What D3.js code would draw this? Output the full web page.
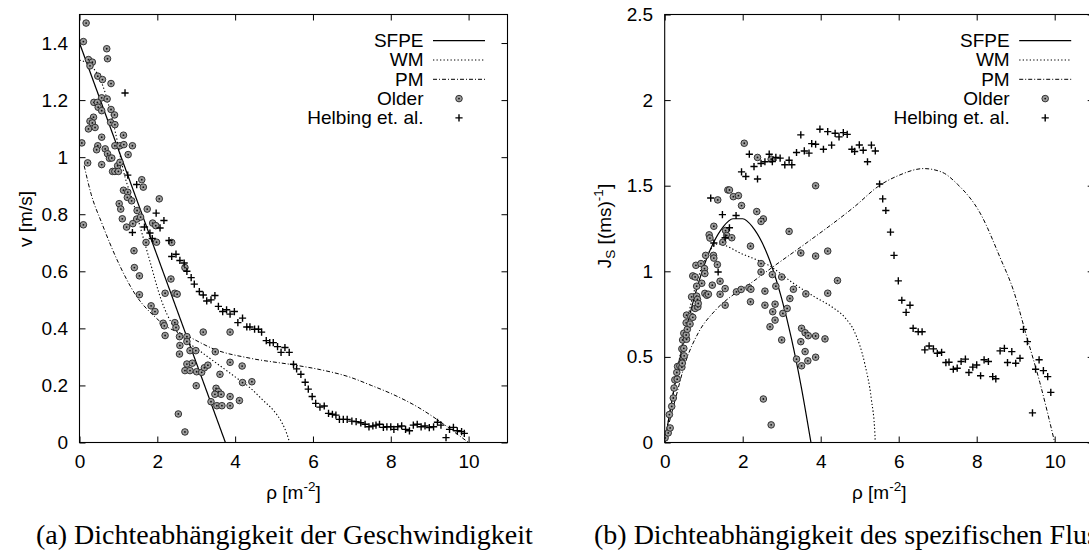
<!DOCTYPE html>
<html>
<head>
<meta charset="utf-8">
<script src="https://cdn.jsdelivr.net/npm/d3@7"></script>
<style>
  body { margin: 0; background: #fff; overflow: hidden; }
</style>
</head>
<body>
<div id="chart"></div>
<script>
// ---- Daten ----
const xTicks = [0, 2, 4, 6, 8, 10];
const vTicks = [0, 0.2, 0.4, 0.6, 0.8, 1, 1.2, 1.4];
const jTicks = [0, 0.5, 1, 1.5, 2, 2.5];
const legendLabels = ['SFPE', 'WM', 'PM', 'Older', 'Helbing et. al.'];

// Geschwindigkeit v [m/s] ueber Dichte
const sfpeV = [[0, 1.4], [3.75, 0]];
const wmV = [[0, 1.34], [0.3, 1.32], [0.6, 1.25], [0.9, 1.1], [1.17, 0.93], [1.36, 0.85], [1.55, 0.76],
  [1.8, 0.64], [2.1, 0.5], [2.4, 0.41], [2.7, 0.36], [3.0, 0.33], [3.5, 0.28], [4.0, 0.23], [4.4, 0.19],
  [4.7, 0.15], [5.0, 0.11], [5.2, 0.07], [5.33, 0.03], [5.4, 0]];
const pmV = [[0.12, 0.97], [0.3, 0.87], [0.57, 0.77], [1.0, 0.63], [1.43, 0.52], [1.94, 0.44], [2.2, 0.41],
  [2.76, 0.374], [3.5, 0.325], [4.4, 0.295], [5.5, 0.272], [6.2, 0.255], [6.95, 0.229], [7.5, 0.2],
  [8.0, 0.172], [8.67, 0.126], [9.27, 0.073], [9.7, 0.03], [10.0, 0]];
const olderV = [[0.17, 1.47], [0.10, 1.405], [0.70, 1.38], [0.72, 1.345], [0.23, 1.342], [0.33, 1.333], [0.27, 1.32],
  [0.47, 1.284], [0.59, 1.272], [0.81, 1.258], [0.57, 1.208], [0.71, 1.204], [0.37, 1.192], [0.46, 1.192],
  [0.48, 1.175], [0.81, 1.167], [0.57, 1.163], [0.90, 1.148], [0.36, 1.14], [0.27, 1.126], [0.33, 1.12],
  [0.80, 1.122], [0.91, 1.114], [0.40, 1.104], [0.23, 1.099], [0.57, 1.07], [1.13, 1.077], [0.06, 1.05],
  [0.47, 1.04], [0.91, 1.04], [1.04, 1.04], [1.14, 1.044], [1.36, 1.04], [0.44, 1.026], [0.66, 1.029],
  [0.72, 1.012], [1.25, 1.009], [0.77, 0.996], [0.83, 0.997], [0.21, 0.98], [0.57, 0.974], [0.98, 0.97],
  [1.04, 0.982], [0.85, 0.95], [0.91, 0.95], [1.0, 0.95], [1.6, 0.921], [1.64, 0.895], [1.13, 0.884],
  [1.24, 0.877], [1.23, 0.859], [1.34, 0.847], [2.05, 0.854], [1.02, 0.837], [1.06, 0.818], [1.48, 0.813],
  [1.74, 0.818], [0.10, 0.763], [1.10, 0.784], [1.47, 0.783], [1.57, 0.79], [1.88, 0.769], [1.37, 0.767],
  [1.21, 0.755], [1.96, 0.76], [1.71, 0.701], [1.98, 0.702], [2.37, 0.701], [1.40, 0.672], [1.41, 0.613],
  [1.54, 0.584], [2.71, 0.613], [2.35, 0.573], [1.54, 0.518], [2.2, 0.523], [2.45, 0.523], [2.51, 0.52],
  [1.84, 0.479], [1.94, 0.459], [2.15, 0.418], [2.18, 0.409], [2.45, 0.42], [3.18, 0.387], [3.87, 0.387],
  [2.2, 0.375], [2.48, 0.403], [2.57, 0.371], [2.76, 0.371], [2.76, 0.354], [2.58, 0.34], [2.84, 0.322],
  [2.99, 0.322], [2.57, 0.31], [3.49, 0.318], [2.76, 0.275], [2.9, 0.278], [3.87, 0.281], [4.18, 0.268],
  [2.71, 0.252], [2.84, 0.252], [3.01, 0.248], [3.14, 0.246], [3.21, 0.262], [3.30, 0.271], [3.61, 0.239],
  [3.0, 0.199], [3.51, 0.19], [3.57, 0.178], [3.64, 0.169], [3.48, 0.169], [3.87, 0.161], [4.19, 0.21],
  [4.43, 0.213], [4.11, 0.147], [3.38, 0.143], [3.53, 0.129], [3.66, 0.129], [3.87, 0.129], [2.54, 0.10],
  [2.71, 0.037]];
const helbingV = [[1.17, 1.225], [1.24, 0.937], [1.47, 0.904], [1.97, 0.804], [2.17, 0.778], [1.36, 0.736],
  [1.67, 0.755], [2.07, 0.752], [1.81, 0.734], [1.87, 0.715], [2.30, 0.708], [2.37, 0.652], [2.48, 0.66],
  [2.58, 0.638], [2.69, 0.629], [2.76, 0.6], [2.87, 0.578], [2.95, 0.555], [3.08, 0.529], [3.18, 0.517],
  [3.27, 0.496], [3.38, 0.5], [3.48, 0.515], [3.57, 0.477], [3.68, 0.459], [3.78, 0.465], [3.87, 0.45],
  [3.98, 0.459], [4.07, 0.42], [4.19, 0.436], [4.3, 0.405], [4.38, 0.405], [4.5, 0.397], [4.6, 0.397],
  [4.68, 0.387], [4.8, 0.357], [4.89, 0.35], [4.98, 0.35], [5.09, 0.336], [5.18, 0.316], [5.28, 0.333],
  [5.39, 0.316], [5.5, 0.274], [5.58, 0.258], [5.69, 0.239], [5.8, 0.211], [5.88, 0.187], [5.98, 0.161],
  [6.07, 0.137], [6.18, 0.124], [6.29, 0.128], [6.4, 0.102], [6.5, 0.099], [6.59, 0.096], [6.68, 0.081],
  [6.78, 0.081], [6.88, 0.081], [7.0, 0.075], [7.11, 0.073], [7.23, 0.069], [7.34, 0.064], [7.44, 0.055],
  [7.54, 0.058], [7.62, 0.061], [7.71, 0.064], [7.81, 0.053], [7.9, 0.055], [8.0, 0.055], [8.08, 0.046],
  [8.18, 0.055], [8.28, 0.058], [8.38, 0.046], [8.48, 0.041], [8.58, 0.061], [8.68, 0.064], [8.78, 0.055],
  [8.88, 0.058], [8.99, 0.052], [9.1, 0.055], [9.2, 0.071], [9.29, 0.061], [9.42, 0.017], [9.51, 0.046],
  [9.61, 0.053], [9.71, 0.041], [9.82, 0.038], [9.89, 0.032]];

// spezifischer Fluss J_s [(ms)^-1] ueber Dichte
const sfpeJ = [[0, 0], [0.25, 0.327], [0.5, 0.607], [0.75, 0.84], [1.0, 1.027], [1.25, 1.167], [1.5, 1.26],
  [1.75, 1.307], [2.0, 1.307], [2.25, 1.26], [2.5, 1.167], [2.75, 1.027], [3.0, 0.84], [3.25, 0.607],
  [3.5, 0.327], [3.75, 0]];
const wmJ = [[0, 0], [0.25, 0.33], [0.5, 0.63], [0.75, 0.88], [1.0, 1.05], [1.36, 1.16], [2.0, 1.1],
  [2.7, 1.03], [3.3, 0.93], [3.85, 0.85], [4.3, 0.79], [4.62, 0.73], [4.88, 0.64], [5.13, 0.46],
  [5.3, 0.25], [5.39, 0.05], [5.4, 0]];
const pmJ = [[0.12, 0.12], [0.27, 0.25], [0.52, 0.46], [0.86, 0.64], [1.29, 0.77], [1.8, 0.87], [2.2, 0.93],
  [2.74, 1.02], [3.6, 1.16], [4.88, 1.38], [5.5, 1.5], [6.0, 1.56], [6.64, 1.6], [7.1, 1.58], [7.5, 1.51],
  [8.1, 1.335], [8.6, 1.08], [8.94, 0.89], [9.28, 0.62], [9.62, 0.35], [10.0, 0]];
const olderJ = [[2.04, 1.748], [2.38, 1.665], [2.73, 1.655], [3.87, 1.5], [1.62, 1.475], [1.66, 1.475],
  [1.76, 1.436], [1.89, 1.442], [1.36, 1.417], [1.97, 1.384], [2.36, 1.349], [2.53, 1.306], [2.47, 1.291],
  [1.26, 1.263], [1.14, 1.213], [1.16, 1.194], [1.56, 1.238], [1.59, 1.209], [1.72, 1.196], [3.19, 1.233],
  [1.49, 1.17], [2.2, 1.147], [3.49, 1.107], [3.87, 1.089], [4.18, 1.118], [1.05, 1.093], [1.25, 1.093],
  [1.26, 1.077], [1.35, 1.039], [0.80, 1.035], [0.93, 1.045], [2.47, 1.045], [0.72, 0.973], [0.78, 0.967],
  [1.02, 1.016], [1.03, 0.987], [2.47, 0.996], [2.76, 0.981], [3.0, 0.967], [0.95, 0.93], [0.82, 0.913],
  [1.22, 0.919], [1.42, 0.942], [2.16, 0.904], [2.21, 0.895], [2.57, 0.884], [1.55, 0.899], [1.84, 0.88],
  [4.18, 0.872], [4.43, 0.946], [1.03, 0.871], [1.08, 0.86], [1.12, 0.866], [0.69, 0.851], [0.82, 0.855],
  [0.84, 0.836], [3.3, 0.895], [3.62, 0.868], [2.85, 0.913],
  [0.01, 0.027], [0.09, 0.056], [0.14, 0.085], [0.12, 0.163], [0.18, 0.211], [0.22, 0.26], [0.24, 0.318],
  [0.26, 0.366], [0.32, 0.37], [0.31, 0.409], [0.33, 0.444], [0.39, 0.448], [0.44, 0.44], [0.44, 0.469],
  [0.45, 0.463], [0.5, 0.506], [0.44, 0.547], [0.49, 0.55], [0.46, 0.599], [0.56, 0.603], [0.49, 0.638],
  [0.55, 0.628], [0.58, 0.661], [0.55, 0.699], [0.65, 0.692], [0.56, 0.744], [0.67, 0.738], [0.72, 0.731],
  [0.78, 0.783], [0.85, 0.792], [0.86, 0.812], [1.42, 0.866], [1.55, 0.802], [1.96, 0.894], [2.2, 0.822],
  [2.57, 0.802], [2.83, 0.808], [2.77, 0.764], [2.83, 0.715], [2.7, 0.676], [3.03, 0.754], [3.14, 0.783],
  [3.21, 0.841], [3.0, 0.599], [3.51, 0.667], [3.6, 0.641], [3.68, 0.624], [3.87, 0.622], [4.11, 0.605],
  [3.49, 0.589], [3.6, 0.531], [3.38, 0.487], [3.87, 0.498], [3.67, 0.477], [3.51, 0.448], [2.53, 0.254],
  [2.73, 0.103]];
const helbingJ = [[3.49, 1.797], [3.98, 1.83], [4.18, 1.816], [4.37, 1.806], [4.47, 1.785], [4.58, 1.81],
  [4.68, 1.8], [3.77, 1.746], [3.87, 1.742], [4.28, 1.737], [4.07, 1.713], [4.8, 1.713], [4.87, 1.7],
  [3.38, 1.694], [3.58, 1.703], [3.7, 1.69], [2.17, 1.684], [2.68, 1.684], [2.57, 1.64], [2.47, 1.63],
  [2.85, 1.665], [2.96, 1.661], [2.76, 1.641], [3.19, 1.649], [3.08, 1.622], [3.26, 1.622], [2.29, 1.612],
  [1.97, 1.581], [2.08, 1.554], [2.38, 1.539], [1.18, 1.428], [1.48, 1.331], [1.83, 1.326], [1.66, 1.254],
  [1.26, 1.165], [1.55, 1.196], [1.37, 0.996], [4.99, 1.738], [5.09, 1.707], [5.2, 1.64], [5.3, 1.737],
  [5.4, 1.703], [5.51, 1.51], [5.59, 1.423], [5.67, 1.355], [5.79, 1.229], [5.88, 1.093], [5.99, 0.944],
  [6.08, 0.831], [6.29, 0.802], [6.19, 0.76], [6.37, 0.667], [6.5, 0.647], [6.6, 0.647], [6.67, 0.541],
  [6.78, 0.564], [6.89, 0.547], [6.99, 0.521], [7.1, 0.527], [7.21, 0.467], [7.29, 0.469], [7.4, 0.428],
  [7.5, 0.434], [7.6, 0.473], [7.71, 0.487], [7.8, 0.409], [7.9, 0.44], [8.0, 0.453], [8.1, 0.39],
  [8.19, 0.483], [8.3, 0.473], [8.41, 0.385], [8.49, 0.372], [8.6, 0.535], [8.71, 0.55], [8.79, 0.467],
  [8.9, 0.531], [9.0, 0.463], [9.11, 0.492], [9.2, 0.661], [9.3, 0.589], [9.43, 0.173], [9.51, 0.428],
  [9.6, 0.483], [9.71, 0.42], [9.82, 0.385], [9.9, 0.293]];

const W = 1089, H = 551;
const SANS = '"Liberation Sans", Arial, Helvetica, sans-serif';
const SERIF = '"Liberation Serif", "Times New Roman", serif';
const FS = 19;

const svg = d3.select('#chart')
  .append('svg')
    .attr('width', W)
    .attr('height', H)
    .style('display', 'block');

const dashes = { solid: null, dotted: '1.3,2.2', dashdot: '4,2,1,2' };

const olderMark = (g) => {
  g.append('circle').attr('r', 3.3).attr('fill', '#9c9c9c').attr('stroke', '#222').attr('stroke-width', 0.9);
  g.append('circle').attr('r', 0.9).attr('fill', '#111');
};
const plusMark = (g) => {
  g.append('path').attr('d', 'M-3.6,0H3.6M0,-3.6V3.6').attr('stroke', '#000').attr('stroke-width', 1.4);
};

const drawPanel = (p) => {
  const x = d3.scaleLinear().domain([0, 11]).range([p.left, p.right]);
  const y = d3.scaleLinear().domain(p.yDomain).range([p.bottom, p.top]);
  const fmt = d => String(d);

  const noDomain = g => g.select('.domain').remove();
  const styleText = g => g.selectAll('text').attr('font-family', SANS).attr('font-size', FS).attr('fill', '#000');

  // Achsen (Ticks nach innen, gespiegelt)
  svg.append('g')
      .attr('transform', `translate(0,${p.bottom})`)
      .call(d3.axisBottom(x).tickValues(xTicks).tickFormat(fmt).tickSizeInner(-6).tickSizeOuter(0).tickPadding(12))
      .call(noDomain).call(styleText);
  svg.append('g')
      .attr('transform', `translate(0,${p.top})`)
      .call(d3.axisTop(x).tickValues(xTicks).tickFormat('').tickSizeInner(-6).tickSizeOuter(0))
      .call(noDomain);
  svg.append('g')
      .attr('transform', `translate(${p.left},0)`)
      .call(d3.axisLeft(y).tickValues(p.yTicks).tickFormat(fmt).tickSizeInner(-6).tickSizeOuter(0).tickPadding(11.5))
      .call(noDomain).call(styleText);
  svg.append('g')
      .attr('transform', `translate(${p.right},0)`)
      .call(d3.axisRight(y).tickValues(p.yTicks).tickFormat('').tickSizeInner(-6).tickSizeOuter(0))
      .call(noDomain);
  svg.selectAll('.tick line').attr('stroke', '#000');

  const clipId = 'clip-' + p.id;
  svg.append('clipPath').attr('id', clipId)
    .append('rect')
      .attr('x', p.left).attr('y', p.top)
      .attr('width', p.right - p.left).attr('height', p.bottom - p.top);

  const plot = svg.append('g').attr('clip-path', `url(#${clipId})`);

  const line = d3.line()
    .x(d => x(d[0]))
    .y(d => y(d[1]))
    .curve(d3.curveMonotoneX);

  p.lines.forEach(l => {
    plot.append('path')
      .datum(l.data)
      .attr('d', line)
      .attr('fill', 'none')
      .attr('stroke', '#000')
      .attr('stroke-width', l.width)
      .attr('stroke-dasharray', dashes[l.style]);
  });

  plot.selectAll('g.older')
    .data(p.older)
    .enter()
    .append('g')
      .attr('class', 'older')
      .attr('transform', d => `translate(${x(d[0])},${y(d[1])})`)
      .each(function () { olderMark(d3.select(this)); });

  plot.selectAll('g.helbing')
    .data(p.helbing)
    .enter()
    .append('g')
      .attr('class', 'helbing')
      .attr('transform', d => `translate(${x(d[0])},${y(d[1])})`)
      .each(function () { plusMark(d3.select(this)); });

  // Rahmen
  svg.append('rect')
    .attr('x', p.left).attr('y', p.top)
    .attr('width', p.right - p.left).attr('height', p.bottom - p.top)
    .attr('fill', 'none').attr('stroke', '#000').attr('stroke-width', 1.1);

  // Legende
  const lg = svg.append('g').attr('font-family', SANS).attr('font-size', FS);
  legendLabels.forEach((lab, i) => {
    const cy = 40.7 + i * 19.3;
    lg.append('text')
      .attr('x', p.right - 84)
      .attr('y', cy + 6.3)
      .attr('text-anchor', 'end')
      .text(lab);
    const sx0 = p.right - 74.5, sx1 = p.right - 22.5;
    if (i < 3) {
      const l = p.lines[i];
      lg.append('line')
        .attr('x1', sx0).attr('x2', sx1).attr('y1', cy).attr('y2', cy)
        .attr('stroke', '#000').attr('stroke-width', l.width)
        .attr('stroke-dasharray', dashes[l.style]);
    } else {
      const m = lg.append('g').attr('transform', `translate(${(sx0 + sx1) / 2},${cy})`);
      if (i === 3) olderMark(m); else plusMark(m);
    }
  });

  // Achsentitel x
  const xl = svg.append('text')
    .attr('x', (p.left + p.right) / 2)
    .attr('y', 499)
    .attr('text-anchor', 'middle')
    .attr('font-family', SANS)
    .attr('font-size', FS);
  xl.append('tspan').text('ρ [m');
  xl.append('tspan').attr('font-size', 13.5).attr('dy', -8).text('-2');
  xl.append('tspan').attr('dy', 8).text(']');

  // Achsentitel y
  const yl = svg.append('text')
    .attr('transform', `translate(${p.ylabelX},${p.ylabelY}) rotate(-90)`)
    .attr('text-anchor', 'middle')
    .attr('font-family', SANS)
    .attr('font-size', FS);
  p.ylabel(yl);

  // Bildunterschrift
  svg.append('text')
    .attr('x', p.captionX)
    .attr('y', 544)
    .attr('font-family', SERIF)
    .attr('font-size', 28)
    .text(p.caption);
};

drawPanel({
  id: 'a', left: 79.5, right: 507.5, top: 14.5, bottom: 442.5,
  yDomain: [0, 1.5], yTicks: vTicks,
  lines: [
    { data: sfpeV, style: 'solid', width: 1.2 },
    { data: wmV, style: 'dotted', width: 1.1 },
    { data: pmV, style: 'dashdot', width: 1.0 }
  ],
  older: olderV, helbing: helbingV,
  ylabelX: 32, ylabelY: 219,
  ylabel: t => t.text('v [m/s]'),
  captionX: 36,
  caption: '(a) Dichteabhängigkeit der Geschwindigkeit'
});

drawPanel({
  id: 'b', left: 664.7, right: 1093.7, top: 14.5, bottom: 442.5,
  yDomain: [0, 2.5], yTicks: jTicks,
  lines: [
    { data: sfpeJ, style: 'solid', width: 1.2 },
    { data: wmJ, style: 'dotted', width: 1.1 },
    { data: pmJ, style: 'dashdot', width: 1.0 }
  ],
  older: olderJ, helbing: helbingJ,
  ylabelX: 611, ylabelY: 226,
  ylabel: t => {
    t.append('tspan').text('J');
    t.append('tspan').attr('font-size', 13.5).attr('dy', 4).text('S');
    t.append('tspan').attr('dy', -4).text(' [(ms)');
    t.append('tspan').attr('font-size', 13.5).attr('dy', -8).text('-1');
    t.append('tspan').attr('dy', 8).text(']');
  },
  captionX: 594,
  caption: '(b) Dichteabhängigkeit des spezifischen Flusses'
});
</script>
</body>
</html>
